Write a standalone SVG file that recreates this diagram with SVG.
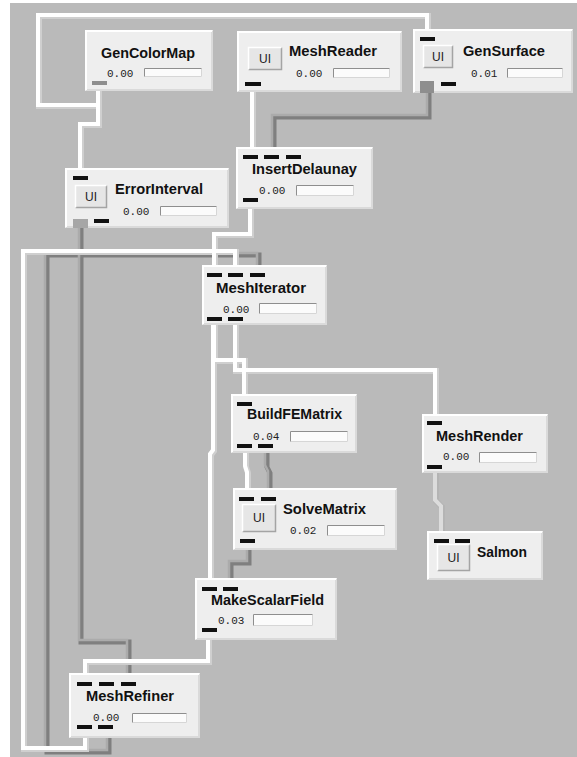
<svg xmlns="http://www.w3.org/2000/svg" xmlns:xlink="http://www.w3.org/1999/xlink" width="577" height="757" viewBox="0 0 577 757">
<style>
.bg{fill:#bababa}
.box{fill:#eeeeee}
.hl{fill:none;stroke:#ffffff;stroke-width:2}
.sd{fill:none;stroke:#dadada;stroke-width:2}
.title{font-family:"Liberation Sans",Arial,sans-serif;font-weight:bold;font-size:14px;fill:#111}
.num{font-family:"Liberation Mono","Courier New",monospace;font-size:11px;fill:#222}
.bar{fill:#fbfbfb}
.bartl{fill:none;stroke:#8e8e8e;stroke-width:1}
.barbr{fill:none;stroke:#d6d6d6;stroke-width:1}
.ui{fill:#e6e6e6}
.uitl{fill:none;stroke:#ffffff;stroke-width:1.5}
.uibr{fill:none;stroke:#a4a4a4;stroke-width:1.5}
.uit{font-family:"Liberation Sans",Arial,sans-serif;font-size:12px;fill:#222;text-anchor:middle}
.p{fill:#111}
.pg{fill:#8e8e8e}
.pl{fill:#a6a6a6}
.ws{fill:none;stroke:#cfcfcf;stroke-width:6;stroke-linecap:square}
.wt{fill:none;stroke:#ffffff;stroke-width:4;stroke-linecap:square}
.gs{fill:none;stroke:#7f7f7f;stroke-width:5;stroke-linecap:square}
.gt{fill:none;stroke:#ababab;stroke-width:2.5;stroke-linecap:square}
.ls{fill:none;stroke:#b4b4b4;stroke-width:6;stroke-linecap:square}
.lt{fill:none;stroke:#dcdcdc;stroke-width:4;stroke-linecap:square}
</style>
<defs>
<path id="w_top" d="M427,37 V15 H38 V105 H98"/>
<path id="w_gcm" d="M98,85 V124 H80 V176"/>
<path id="w_mr" d="M252,86 V155"/>
<path id="g_gs" d="M428,85 V116 H273 V155"/>
<path id="w_id" d="M250,202 V234 H214 V273"/>
<path id="w_ref1" d="M85,729 V748 H23 V251 H235 V273"/>
<path id="g_ref2" d="M108,729 V751 H46 V254 H258 V273"/>
<path id="g_err" d="M80,223 V641 H128 V682"/>
<path id="w_msf" d="M208,632 V661 H85 V682"/>
<path id="w_it1" d="M213,321 V450 L210,454 V587"/>
<path id="w_it1b" d="M214,321 V360 H244 V402"/>
<path id="w_it2" d="M235,321 V370 H435 V421"/>
<path id="w_bf1" d="M245,448 V466 L247,472 V497"/>
<path id="g_bf2" d="M266,448 V466 L269,472 V497"/>
<path id="g_sm" d="M248,543 V562 H230 V587"/>
<path id="l_mr" d="M435,469 V500 L441,506 V539"/>
</defs>
<rect x="0" y="0" width="577" height="757" fill="#ffffff"/>
<rect class="bg" x="10" y="3" width="567" height="754"/>

<g id="connectors">
<g transform="translate(1,1)">
<use xlink:href="#g_ref2" class="gs"/>
<use xlink:href="#g_err" class="gs"/>
<use xlink:href="#g_gs" class="gs"/>
<use xlink:href="#g_bf2" class="gs"/>
<use xlink:href="#g_sm" class="gs"/>
</g>
<g transform="translate(-1,-1)">
<use xlink:href="#g_ref2" class="gt"/>
<use xlink:href="#g_err" class="gt"/>
<use xlink:href="#g_gs" class="gt"/>
<use xlink:href="#g_bf2" class="gt"/>
<use xlink:href="#g_sm" class="gt"/>
</g>
<g transform="translate(1,1)">
<use xlink:href="#w_top" class="ws"/>
<use xlink:href="#w_gcm" class="ws"/>
<use xlink:href="#w_mr" class="ws"/>
<use xlink:href="#w_id" class="ws"/>
<use xlink:href="#w_ref1" class="ws"/>
<use xlink:href="#w_msf" class="ws"/>
<use xlink:href="#w_it1" class="ws"/>
<use xlink:href="#w_it1b" class="ws"/>
<use xlink:href="#w_it2" class="ws"/>
<use xlink:href="#w_bf1" class="ws"/>
<use xlink:href="#l_mr" class="ls"/>
</g>
<use xlink:href="#w_top" class="wt"/>
<use xlink:href="#w_gcm" class="wt"/>
<use xlink:href="#w_mr" class="wt"/>
<use xlink:href="#w_id" class="wt"/>
<use xlink:href="#w_ref1" class="wt"/>
<use xlink:href="#w_msf" class="wt"/>
<use xlink:href="#w_it1" class="wt"/>
<use xlink:href="#w_it1b" class="wt"/>
<use xlink:href="#w_it2" class="wt"/>
<use xlink:href="#w_bf1" class="wt"/>
<use xlink:href="#l_mr" class="lt"/>
</g>

<g id="GenColorMap">
<rect class="box" x="85" y="30" width="128" height="61"/>
<path class="sd" d="M86,90 H212 V31"/><path class="hl" d="M86,90 V31 H212"/>
<text class="title" x="101" y="58" textLength="94" lengthAdjust="spacingAndGlyphs">GenColorMap</text>
<text class="num" x="107" y="77">0.00</text>
<rect class="bar" x="144" y="68" width="58" height="9"/><path class="barbr" d="M144.5,76.5 H201.5 V68.5"/><path class="bartl" d="M144.5,76.5 V68.5 H201.5"/>
<rect class="pg" x="92" y="81" width="15" height="4"/>
</g>

<g id="MeshReader">
<rect class="box" x="237" y="31" width="165" height="61"/>
<path class="sd" d="M238,91 H401 V32"/><path class="hl" d="M238,91 V32 H401"/>
<rect class="ui" x="248" y="47" width="34" height="23"/><path class="uibr" d="M248.5,69.5 H281.5 V47.5"/><path class="uitl" d="M248.5,69.5 V47.5 H281.5"/>
<text class="uit" x="265" y="63">UI</text>
<text class="title" x="289" y="56" textLength="88" lengthAdjust="spacingAndGlyphs">MeshReader</text>
<text class="num" x="296" y="77">0.00</text>
<rect class="bar" x="333" y="68" width="57" height="10"/><path class="barbr" d="M333.5,77.5 H389.5 V68.5"/><path class="bartl" d="M333.5,77.5 V68.5 H389.5"/>
<rect class="p" x="245" y="82" width="16" height="4"/>
</g>

<g id="GenSurface">
<rect class="box" x="413" y="29" width="160" height="64"/>
<path class="sd" d="M414,92 H572 V30"/><path class="hl" d="M414,92 V30 H572"/>
<rect class="p" x="420" y="37" width="15" height="4"/>
<rect class="ui" x="423" y="45" width="30" height="23"/><path class="uibr" d="M423.5,67.5 H452.5 V45.5"/><path class="uitl" d="M423.5,67.5 V45.5 H452.5"/>
<text class="uit" x="438" y="61">UI</text>
<text class="title" x="463" y="56" textLength="82" lengthAdjust="spacingAndGlyphs">GenSurface</text>
<text class="num" x="471" y="77">0.01</text>
<rect class="bar" x="507" y="68" width="56" height="10"/><path class="barbr" d="M507.5,77.5 H562.5 V68.5"/><path class="bartl" d="M507.5,77.5 V68.5 H562.5"/>
<rect class="pg" x="420" y="81" width="14" height="12"/>
<rect class="p" x="441" y="82" width="15" height="4"/>
</g>

<g id="ErrorInterval">
<rect class="box" x="65" y="168" width="164" height="60"/>
<path class="sd" d="M66,227 H228 V169"/><path class="hl" d="M66,227 V169 H228"/>
<rect class="p" x="73" y="176" width="15" height="4"/>
<rect class="ui" x="75" y="185" width="32" height="23"/><path class="uibr" d="M75.5,207.5 H106.5 V185.5"/><path class="uitl" d="M75.5,207.5 V185.5 H106.5"/>
<text class="uit" x="91" y="201">UI</text>
<text class="title" x="115" y="194" textLength="88" lengthAdjust="spacingAndGlyphs">ErrorInterval</text>
<text class="num" x="123" y="215">0.00</text>
<rect class="bar" x="160" y="206" width="57" height="10"/><path class="barbr" d="M160.5,215.5 H216.5 V206.5"/><path class="bartl" d="M160.5,215.5 V206.5 H216.5"/>
<rect class="pl" x="73" y="219" width="15" height="9"/>
<rect class="p" x="94" y="219" width="15" height="4"/>
</g>

<g id="InsertDelaunay">
<rect class="box" x="236" y="147" width="137" height="62"/>
<path class="sd" d="M237,208 H372 V148"/><path class="hl" d="M237,208 V148 H372"/>
<rect class="p" x="243" y="155" width="15" height="4"/>
<rect class="p" x="264" y="155" width="15" height="4"/>
<rect class="p" x="286" y="155" width="15" height="4"/>
<text class="title" x="252" y="174" textLength="105" lengthAdjust="spacingAndGlyphs">InsertDelaunay</text>
<text class="num" x="259" y="194">0.00</text>
<rect class="bar" x="296" y="185" width="58" height="11"/><path class="barbr" d="M296.5,195.5 H353.5 V185.5"/><path class="bartl" d="M296.5,195.5 V185.5 H353.5"/>
<rect class="p" x="243" y="198" width="15" height="4"/>
</g>

<g id="MeshIterator">
<rect class="box" x="202" y="265" width="125" height="60"/>
<path class="sd" d="M203,324 H326 V266"/><path class="hl" d="M203,324 V266 H326"/>
<rect class="p" x="207" y="273" width="15" height="4"/>
<rect class="p" x="228" y="273" width="15" height="4"/>
<rect class="p" x="250" y="273" width="15" height="4"/>
<text class="title" x="216" y="293" textLength="90" lengthAdjust="spacingAndGlyphs">MeshIterator</text>
<text class="num" x="223" y="313">0.00</text>
<rect class="bar" x="259" y="303" width="58" height="11"/><path class="barbr" d="M259.5,313.5 H316.5 V303.5"/><path class="bartl" d="M259.5,313.5 V303.5 H316.5"/>
<rect class="p" x="207" y="317" width="15" height="4"/>
<rect class="p" x="228" y="317" width="15" height="4"/>
</g>

<g id="BuildFEMatrix">
<rect class="box" x="231" y="394" width="126" height="59"/>
<path class="sd" d="M232,452 H356 V395"/><path class="hl" d="M232,452 V395 H356"/>
<rect class="p" x="237" y="402" width="15" height="4"/>
<text class="title" x="247" y="419" textLength="95" lengthAdjust="spacingAndGlyphs">BuildFEMatrix</text>
<text class="num" x="253" y="440">0.04</text>
<rect class="bar" x="290" y="431" width="58" height="11"/><path class="barbr" d="M290.5,441.5 H347.5 V431.5"/><path class="bartl" d="M290.5,441.5 V431.5 H347.5"/>
<rect class="p" x="237" y="444" width="15" height="4"/>
<rect class="p" x="258" y="444" width="15" height="4"/>
</g>

<g id="SolveMatrix">
<rect class="box" x="233" y="488" width="164" height="62"/>
<path class="sd" d="M234,549 H396 V489"/><path class="hl" d="M234,549 V489 H396"/>
<rect class="p" x="239" y="497" width="15" height="4"/>
<rect class="p" x="261" y="497" width="15" height="4"/>
<rect class="ui" x="242" y="504" width="34" height="28"/><path class="uibr" d="M242.5,531.5 H275.5 V504.5"/><path class="uitl" d="M242.5,531.5 V504.5 H275.5"/>
<text class="uit" x="259" y="522">UI</text>
<text class="title" x="283" y="514" textLength="83" lengthAdjust="spacingAndGlyphs">SolveMatrix</text>
<text class="num" x="290" y="534">0.02</text>
<rect class="bar" x="327" y="525" width="58" height="11"/><path class="barbr" d="M327.5,535.5 H384.5 V525.5"/><path class="bartl" d="M327.5,535.5 V525.5 H384.5"/>
<rect class="p" x="240" y="539" width="15" height="4"/>
</g>

<g id="MeshRender">
<rect class="box" x="422" y="414" width="126" height="59"/>
<path class="sd" d="M423,472 H547 V415"/><path class="hl" d="M423,472 V415 H547"/>
<rect class="p" x="427" y="421" width="15" height="4"/>
<text class="title" x="436" y="441" textLength="87" lengthAdjust="spacingAndGlyphs">MeshRender</text>
<text class="num" x="443" y="460">0.00</text>
<rect class="bar" x="479" y="452" width="58" height="11"/><path class="barbr" d="M479.5,462.5 H536.5 V452.5"/><path class="bartl" d="M479.5,462.5 V452.5 H536.5"/>
<rect class="p" x="427" y="465" width="15" height="4"/>
</g>

<g id="Salmon">
<rect class="box" x="427" y="531" width="116" height="49"/>
<path class="sd" d="M428,579 H542 V532"/><path class="hl" d="M428,579 V532 H542"/>
<rect class="p" x="434" y="539" width="15" height="4"/>
<rect class="p" x="455" y="539" width="15" height="4"/>
<rect class="ui" x="437" y="544" width="33" height="27"/><path class="uibr" d="M437.5,570.5 H469.5 V544.5"/><path class="uitl" d="M437.5,570.5 V544.5 H469.5"/>
<text class="uit" x="453.5" y="562">UI</text>
<text class="title" x="477" y="557" textLength="50" lengthAdjust="spacingAndGlyphs">Salmon</text>
</g>

<g id="MakeScalarField">
<rect class="box" x="195" y="578" width="142" height="62"/>
<path class="sd" d="M196,639 H336 V579"/><path class="hl" d="M196,639 V579 H336"/>
<rect class="p" x="202" y="587" width="15" height="4"/>
<rect class="p" x="223" y="587" width="15" height="4"/>
<text class="title" x="211" y="605" textLength="113" lengthAdjust="spacingAndGlyphs">MakeScalarField</text>
<text class="num" x="218" y="624">0.03</text>
<rect class="bar" x="253" y="614" width="60" height="12"/><path class="barbr" d="M253.5,625.5 H312.5 V614.5"/><path class="bartl" d="M253.5,625.5 V614.5 H312.5"/>
<rect class="p" x="202" y="628" width="15" height="4"/>
</g>

<g id="MeshRefiner">
<rect class="box" x="69" y="673" width="131" height="65"/>
<path class="sd" d="M70,737 H199 V674"/><path class="hl" d="M70,737 V674 H199"/>
<rect class="p" x="77" y="682" width="15" height="4"/>
<rect class="p" x="99" y="682" width="15" height="4"/>
<rect class="p" x="121" y="682" width="15" height="4"/>
<text class="title" x="86" y="701" textLength="88" lengthAdjust="spacingAndGlyphs">MeshRefiner</text>
<text class="num" x="93" y="721">0.00</text>
<rect class="bar" x="132" y="713" width="55" height="10"/><path class="barbr" d="M132.5,722.5 H186.5 V713.5"/><path class="bartl" d="M132.5,722.5 V713.5 H186.5"/>
<rect class="p" x="77" y="725" width="15" height="4"/>
<rect class="p" x="98" y="725" width="15" height="4"/>
</g>
</svg>
